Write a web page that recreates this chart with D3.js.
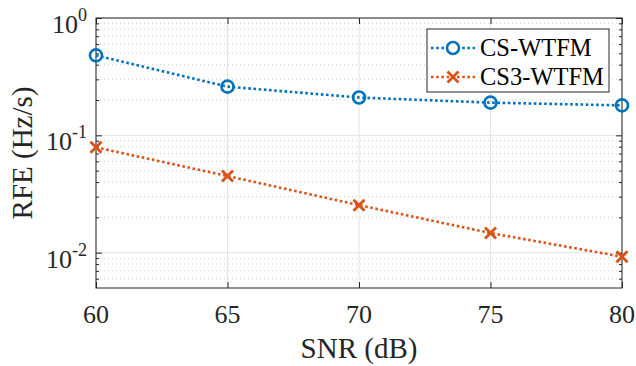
<!DOCTYPE html>
<html><head><meta charset="utf-8">
<script src="https://cdn.jsdelivr.net/npm/d3@7"></script>
<style>body{margin:0;background:#fff}svg{display:block}</style>
</head><body>
<svg id="c" width="636" height="366"></svg>
<script>
const snr = [60, 65, 70, 75, 80];
const csWtfm = [0.48, 0.26, 0.21, 0.19, 0.18];
const cs3Wtfm = [0.079, 0.045, 0.0254, 0.0147, 0.00925];
const xTicks = [60, 65, 70, 75, 80];
const yTickExps = [0, -1, -2];
const seriesNames = ["CS-WTFM", "CS3-WTFM"];

const FF = "Liberation Serif";
const svg = d3.select("#c");
const L = 96, R = 622, T = 18, B = 288;
const x = d3.scaleLinear().domain([60, 80]).range([L, R]);
const y = d3.scaleLog().domain([0.005, 1]).range([B, T]);
const axisCol = "#262626";

const minors = [];
for (let e = -3; e <= 0; e++) for (let m = 2; m <= 9; m++) { const v = m * Math.pow(10, e); if (v > 0.005 && v < 1) minors.push(v); }
const majors = yTickExps.map(e => Math.pow(10, e));

const g = svg.append("g");
g.selectAll(".mg").data(minors).enter().append("line")
  .attr("x1", L).attr("x2", R).attr("y1", d => y(d)).attr("y2", d => y(d))
  .attr("stroke", "#cfcfcf").attr("stroke-width", 1).attr("stroke-dasharray", "1,3");
g.selectAll(".Mg").data(majors).enter().append("line")
  .attr("x1", L).attr("x2", R).attr("y1", d => y(d)).attr("y2", d => y(d))
  .attr("stroke", "#e3e3e3").attr("stroke-width", 1);
g.selectAll(".xg").data(xTicks).enter().append("line")
  .attr("x1", d => x(d)).attr("x2", d => x(d)).attr("y1", T).attr("y2", B)
  .attr("stroke", "#e3e3e3").attr("stroke-width", 1);

// bottom ticks via axis (no labels), labels drawn separately from the same scale
const xa = svg.append("g").attr("transform", `translate(0,${B})`)
  .call(d3.axisBottom(x).tickValues(xTicks).tickSize(-6).tickFormat(""));
xa.select(".domain").remove();
xa.selectAll("line").attr("stroke", axisCol);
svg.selectAll(".xl").data(xTicks).enter().append("text")
  .attr("x", d => x(d)).attr("y", B + 35).attr("text-anchor", "middle")
  .attr("font-family", FF).attr("font-size", 26).attr("fill", axisCol).text(d => d);
const xaT = svg.append("g").attr("transform", `translate(0,${T})`).call(d3.axisTop(x).tickValues(xTicks).tickSize(-6).tickFormat(""));
xaT.select(".domain").remove(); xaT.selectAll("line").attr("stroke", axisCol);

[[L, d3.axisLeft], [R, d3.axisRight]].forEach(([px, ax]) => {
  const a = svg.append("g").attr("transform", `translate(${px},0)`).call(ax(y).tickValues(majors).tickSize(-6).tickFormat(""));
  a.select(".domain").remove(); a.selectAll("line").attr("stroke", axisCol);
  const m = svg.append("g").attr("transform", `translate(${px},0)`).call(ax(y).tickValues(minors).tickSize(-3).tickFormat(""));
  m.select(".domain").remove(); m.selectAll("line").attr("stroke", axisCol);
});

yTickExps.forEach(e => {
  const t = svg.append("text").attr("x", 87).attr("y", y(Math.pow(10, e)) + 15).attr("text-anchor", "end")
    .attr("font-family", FF).attr("font-size", 26).attr("fill", axisCol);
  t.append("tspan").text("10");
  t.append("tspan").text(String(e)).attr("dy", -12).attr("font-size", 18);
});

svg.append("rect").attr("x", L).attr("y", T).attr("width", R - L).attr("height", B - T)
  .attr("fill", "none").attr("stroke", axisCol).attr("stroke-width", 1);

const colors = ["#0072BD", "#D95319"];
const line = d3.line().x((d, i) => x(snr[i])).y(d => y(d));
[csWtfm, cs3Wtfm].forEach((s, k) => {
  svg.append("path").datum(s).attr("d", line).attr("fill", "none").attr("stroke", colors[k]).attr("stroke-width", 2.6).attr("stroke-dasharray", "2.6,2.6");
});
svg.selectAll(".c1").data(csWtfm).enter().append("circle")
  .attr("cx", (d, i) => x(snr[i])).attr("cy", d => y(d)).attr("r", 6)
  .attr("fill", "none").attr("stroke", colors[0]).attr("stroke-width", 2.6);
const xPath = "M-5.5,-5.5L5.5,5.5M-5.5,5.5L5.5,-5.5";
svg.selectAll(".c2").data(cs3Wtfm).enter().append("path")
  .attr("transform", (d, i) => `translate(${x(snr[i])},${y(d)})`)
  .attr("d", xPath).attr("stroke", colors[1]).attr("stroke-width", 2.8).attr("fill", "none");

const lg = svg.append("g");
lg.append("rect").attr("x", 427).attr("y", 29).attr("width", 182).attr("height", 63).attr("fill", "#fff").attr("stroke", axisCol).attr("stroke-width", 1);
seriesNames.forEach((n, k) => {
  const cy = 48 + k * 29;
  lg.append("line").attr("x1", 431).attr("x2", 475).attr("y1", cy).attr("y2", cy).attr("stroke", colors[k]).attr("stroke-width", 2.6).attr("stroke-dasharray", "2.6,2.6");
  if (k === 0) lg.append("circle").attr("cx", 453).attr("cy", cy).attr("r", 6).attr("fill", "#fff").attr("stroke", colors[0]).attr("stroke-width", 2.6);
  else lg.append("path").attr("transform", `translate(453,${cy})`).attr("d", xPath).attr("stroke", colors[1]).attr("stroke-width", 2.8);
  lg.append("text").attr("x", 480).attr("y", cy + 8).attr("font-family", FF).attr("font-size", 24.5).attr("fill", "#000").text(n);
});

svg.append("text").attr("x", (L + R) / 2).attr("y", 358).attr("text-anchor", "middle")
  .attr("font-family", FF).attr("font-size", 29).attr("fill", axisCol).text("SNR (dB)");
svg.append("text").attr("transform", `translate(32,${(T + B) / 2}) rotate(-90)`).attr("text-anchor", "middle")
  .attr("font-family", FF).attr("font-size", 29).attr("fill", axisCol).text("RFE (Hz/s)");
</script>
</body></html>
